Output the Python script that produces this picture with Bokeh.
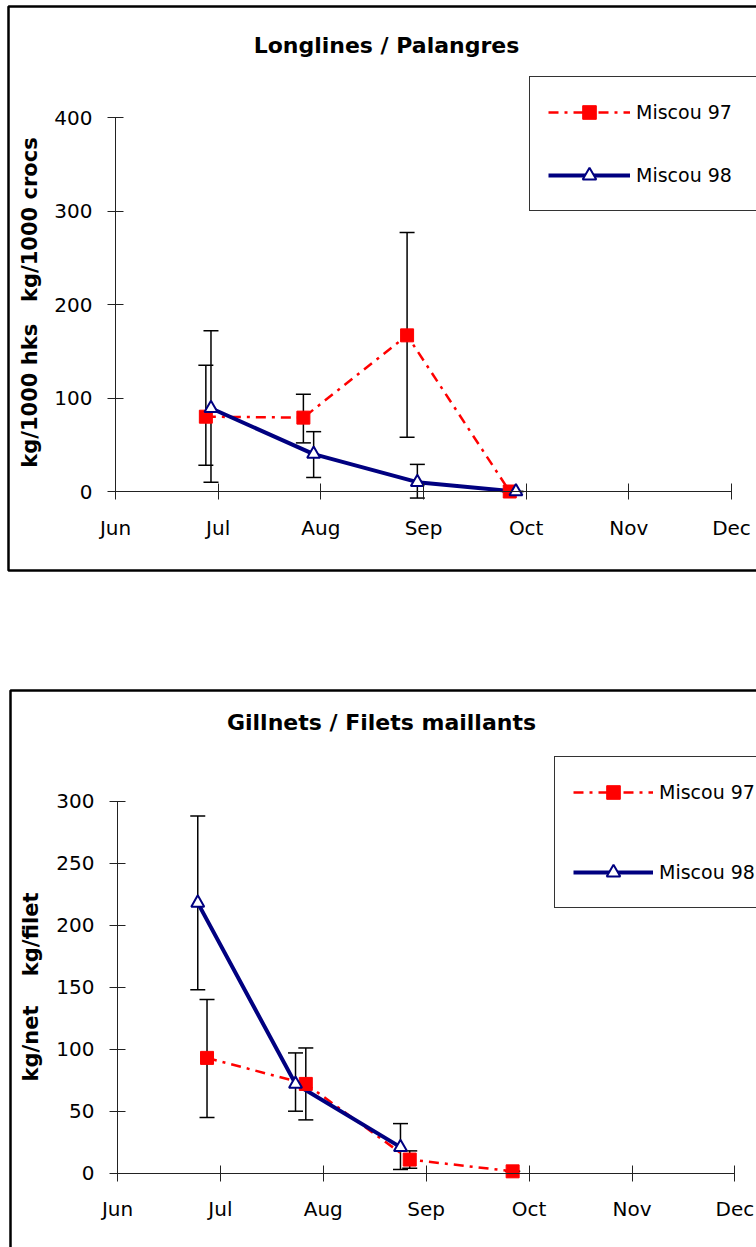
import math
from bokeh.plotting import figure
from bokeh.models import (ColumnDataSource, Whisker, TeeHead, FixedTicker, Legend,
                          LegendItem, BoxAnnotation, Label)
from bokeh.layouts import column
from bokeh.embed import file_html
from bokeh.resources import INLINE

# ---------------- data ----------------
months = ["Jun", "Jul", "Aug", "Sep", "Oct", "Nov", "Dec"]
month_pos = [0, 1, 2, 3, 4, 5, 6]
series_names = ["Miscou 97", "Miscou 98"]

# Longlines / Palangres
ll_title = "Longlines / Palangres"
ll_ylabel = "kg/1000 hks\u00a0\u00a0 kg/1000 crocs"
ll_yticks = [0, 100, 200, 300, 400]
ll97_x = [0.88, 1.83, 2.84, 3.84]
ll97_y = [80, 79, 167, 0]
ll97_lo = [28, 52, 58, 0]
ll97_hi = [135, 104, 277, 0]
ll98_x = [0.93, 1.93, 2.94, 3.90]
ll98_y = [89, 40, 10, 0]
ll98_lo = [10, 15, -7, 0]
ll98_hi = [172, 64, 29, 0]

# Gillnets / Filets maillants
gn_title = "Gillnets / Filets maillants"
gn_ylabel = "kg/net\u00a0\u00a0\u00a0 kg/filet"
gn_yticks = [0, 50, 100, 150, 200, 250, 300]
gn97_x = [0.87, 1.83, 2.84, 3.84]
gn97_y = [93, 72, 11, 1.5]
gn97_lo = [45, 43, 4, 1.5]
gn97_hi = [140, 101, 18, 1.5]
gn98_x = [0.78, 1.73, 2.75]
gn98_y = [218, 72, 21]
gn98_lo = [148, 50, 3]
gn98_hi = [288, 97, 40]

RED = "#FF0000"
NAVY = "#000080"
FONT = "DejaVu Sans"


def make_chart(title, ylabel, yticks, s97, s98, g):
    # layout geometry (pixels on the canvas)
    W, H = 756, g["h"]
    x0px, pxm = g["x0px"], g["pxm"]          # Jun position, pixels per month
    y0px, pxu = g["y0px"], g["pxu"]          # zero position, pixels per unit
    xr = (-x0px / pxm, (W - x0px) / pxm)
    yr = (-(H - y0px) / pxu, y0px / pxu)

    p = figure(width=W, height=H, x_range=xr, y_range=yr,
               output_backend="svg", toolbar_location=None,
               min_border=0, min_border_left=0, min_border_right=0,
               min_border_top=0, min_border_bottom=0)
    p.outline_line_color = None
    p.grid.visible = False
    p.background_fill_color = "white"
    p.border_fill_color = "white"

    # axes
    ya = p.yaxis[0]
    ya.ticker = FixedTicker(ticks=yticks)
    ya.bounds = (0, yticks[-1])
    ya.fixed_location = 0
    xa = p.xaxis[0]
    xa.ticker = FixedTicker(ticks=month_pos)
    xa.major_label_overrides = {i: m for i, m in zip(month_pos, months)}
    xa.bounds = (0, 6)
    xa.fixed_location = 0
    for ax in (xa, ya):
        ax.axis_line_color = "#222222"
        ax.axis_line_width = 1
        ax.major_tick_line_color = "#222222"
        ax.major_tick_in = 8
        ax.major_tick_out = 8
        ax.minor_tick_line_color = None
        ax.major_label_text_font = FONT
        ax.major_label_text_font_size = "20px"
        ax.major_label_text_color = "black"
    ya.major_label_standoff = 15
    xa.major_label_standoff = 16

    # title and y label
    p.add_layout(Label(x=g["title_xy"][0], y=g["title_xy"][1], x_units="canvas",
                       y_units="canvas", text=title, text_font=FONT,
                       text_font_size="22px", text_font_style="bold",
                       text_align="center", text_baseline="middle", text_color="black"))
    p.add_layout(Label(x=g["ylab_xy"][0], y=g["ylab_xy"][1], x_units="canvas",
                       y_units="canvas", text=ylabel, angle=math.pi / 2, text_font=FONT,
                       text_font_size="21px", text_font_style="bold",
                       text_align="center", text_baseline="middle", text_color="black"))

    # error bars
    for (x, y, lo, hi) in (s97, s98):
        src = ColumnDataSource(dict(x=x, lo=lo, hi=hi))
        w = Whisker(source=src, base="x", lower="lo", upper="hi", dimension="height",
                    line_color="black", line_width=1.5,
                    upper_head=TeeHead(size=15, line_color="black", line_width=1.5),
                    lower_head=TeeHead(size=15, line_color="black", line_width=1.5))
        p.add_layout(w)

    x97, y97, _, _ = s97
    x98, y98, _, _ = s98
    l97 = p.line(x97, y97, line_color=RED, line_width=2.5, line_dash="10 6 3 6")
    l98 = p.line(x98, y98, line_color=NAVY, line_width=4)
    m97 = p.scatter(x97, y97, marker="square", size=13, fill_color=RED, line_color=RED)
    m98 = p.scatter(x98, y98, marker="triangle", size=13, fill_color="white",
                    line_color=NAVY, line_width=2)

    leg = Legend(items=[LegendItem(label=series_names[0], renderers=[l97, m97]),
                        LegendItem(label=series_names[1], renderers=[l98, m98])],
                 location=g["legloc"], padding=18, spacing=g["legsp"],
                 glyph_width=g["gw"], glyph_height=34, label_height=34,
                 label_width=150, label_standoff=6,
                 label_text_font=FONT, label_text_font_size="19px",
                 label_text_color="black",
                 border_line_color="#333333", border_line_width=1, border_line_alpha=1,
                 background_fill_color="white", background_fill_alpha=1)
    p.add_layout(leg)

    box = BoxAnnotation(left=g["box"][0], right=1000, top=g["box"][1], bottom=g["box"][2],
                        left_units="canvas", right_units="canvas",
                        top_units="canvas", bottom_units="canvas",
                        fill_color=None, fill_alpha=0,
                        line_color="black", line_alpha=1, line_width=2.5, level="overlay")
    p.add_layout(box)
    return p


p1 = make_chart(ll_title, ll_ylabel, ll_yticks,
                (ll97_x, ll97_y, ll97_lo, ll97_hi), (ll98_x, ll98_y, ll98_lo, ll98_hi),
                dict(h=580, x0px=115, pxm=102.67, y0px=491, pxu=0.935,
                     title_xy=(386, 45), ylab_xy=(29, 302),
                     legloc=(529, 369), legsp=29, gw=82, box=(8, 6, 570)))
p2 = make_chart(gn_title, gn_ylabel, gn_yticks,
                (gn97_x, gn97_y, gn97_lo, gn97_hi), (gn98_x, gn98_y, gn98_lo, gn98_hi),
                dict(h=667, x0px=117, pxm=102.9, y0px=592.7, pxu=1.24,
                     title_xy=(381, 141.7), ylab_xy=(30, 406.5),
                     legloc=(554, 339), legsp=46, gw=80, box=(10, 110, 1000)))

layout = column(p1, p2, spacing=0)
open("out.html", "w").write(file_html(layout, INLINE))
